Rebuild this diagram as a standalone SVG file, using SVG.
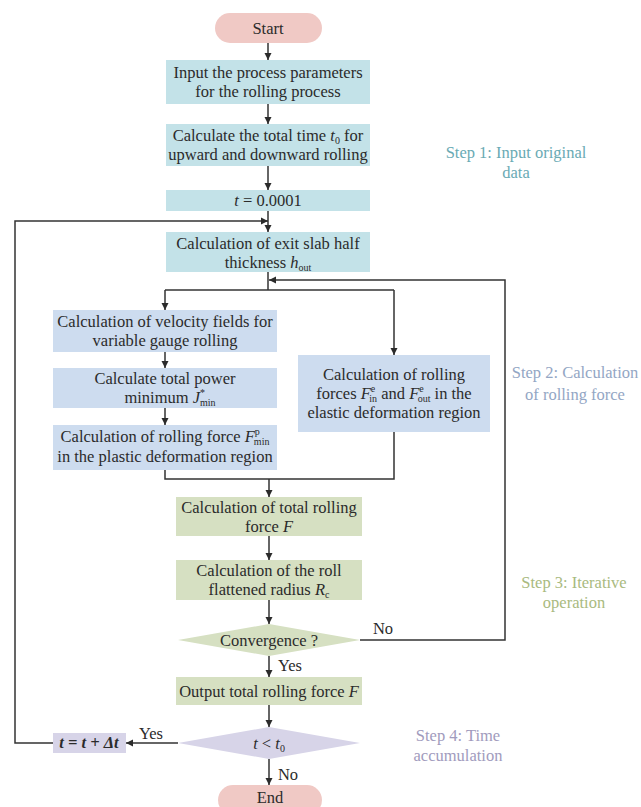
<svg xmlns="http://www.w3.org/2000/svg" width="641" height="807" viewBox="0 0 641 807">
  <defs>
    <marker id="arr" markerWidth="8" markerHeight="8" refX="7" refY="4" orient="auto" markerUnits="userSpaceOnUse">
      <path d="M0,0.5 L7,4 L0,7.5 Z" fill="#2b2b2b"/>
    </marker>
    <style>
      text { font-family: "Liberation Serif", "Times New Roman", serif; font-size: 16.5px; fill: #2b2b2b; text-anchor: middle; }
      .i { font-style: italic; }
      .s { font-size: 10px; }
      .term { fill: #f0c9c5; }
      .cyan { fill: #c3e2e8; }
      .blue { fill: #cddcef; }
      .green { fill: #d6e0c2; }
      .purple { fill: #d7d4e8; }
      .ln { fill: none; stroke: #333; stroke-width: 1.5; }
      .step1 { fill: #6aaab4; }
      .step2 { fill: #93a6c4; }
      .step3 { fill: #a9ba80; }
      .step4 { fill: #a19bbd; }
    </style>
  </defs>
  <rect width="641" height="807" fill="#ffffff"/>

  <!-- connectors -->
  <g id="connectors" class="ln">
    <line x1="268" y1="43" x2="268" y2="60" marker-end="url(#arr)"/>
    <line x1="268" y1="104" x2="268" y2="124" marker-end="url(#arr)"/>
    <line x1="268" y1="166" x2="268" y2="190" marker-end="url(#arr)"/>
    <line x1="268" y1="211" x2="268" y2="232" marker-end="url(#arr)"/>
    <polyline points="53,743 15,743 15,221 268,221" marker-end="url(#arr)"/>
    <line x1="268" y1="272" x2="268" y2="290"/>
    <polyline points="360,640 505,640 505,280 269,280" marker-end="url(#arr)"/>
    <line x1="165" y1="290" x2="394" y2="290"/>
    <line x1="165" y1="290" x2="165" y2="310" marker-end="url(#arr)"/>
    <line x1="394" y1="290" x2="394" y2="355" marker-end="url(#arr)"/>
    <line x1="165" y1="352" x2="165" y2="368" marker-end="url(#arr)"/>
    <line x1="165" y1="408" x2="165" y2="425" marker-end="url(#arr)"/>
    <polyline points="165,470 165,479 394,479 394,432"/>
    <line x1="269" y1="479" x2="269" y2="497" marker-end="url(#arr)"/>
    <line x1="269" y1="536" x2="269" y2="560" marker-end="url(#arr)"/>
    <line x1="269" y1="600" x2="269" y2="624" marker-end="url(#arr)"/>
    <line x1="269" y1="656" x2="269" y2="677" marker-end="url(#arr)"/>
    <line x1="269" y1="705" x2="269" y2="727" marker-end="url(#arr)"/>
    <line x1="178" y1="743" x2="126" y2="743" marker-end="url(#arr)"/>
    <line x1="269" y1="759" x2="269" y2="785" marker-end="url(#arr)"/>
  </g>

  <!-- edge labels -->
  <g id="edge-labels">
    <text x="383" y="634">No</text>
    <text x="290" y="671">Yes</text>
    <text x="151" y="739">Yes</text>
    <text x="288" y="780">No</text>
  </g>

  <g id="start">
    <rect class="term" x="215" y="13" width="107" height="30" rx="15"/>
    <text x="268" y="34">Start</text>
  </g>

  <g id="input-params">
    <rect class="cyan" x="166" y="60" width="204" height="44"/>
    <text x="268" y="78">Input the process parameters</text>
    <text x="268" y="97">for the rolling process</text>
  </g>

  <g id="total-time">
    <rect class="cyan" x="166" y="124" width="204" height="42"/>
    <text x="268" y="141">Calculate the total time <tspan class="i">t</tspan><tspan class="s" dy="3">0</tspan><tspan dy="-3"> for</tspan></text>
    <text x="268" y="160">upward and downward rolling</text>
  </g>

  <g id="t-init">
    <rect class="cyan" x="166" y="190" width="204" height="21"/>
    <text x="268" y="206"><tspan class="i">t</tspan> = 0.0001</text>
  </g>

  <g id="exit-thickness">
    <rect class="cyan" x="166" y="232" width="204" height="40"/>
    <text x="268" y="249">Calculation of exit slab half</text>
    <text x="268" y="268">thickness <tspan class="i">h</tspan><tspan class="s" dy="3">out</tspan></text>
  </g>

  <g id="velocity-fields">
    <rect class="blue" x="53" y="310" width="224" height="42"/>
    <text x="165" y="327">Calculation of velocity fields for</text>
    <text x="165" y="346">variable gauge rolling</text>
  </g>

  <g id="power-min">
    <rect class="blue" x="53" y="368" width="224" height="40"/>
    <text x="165" y="384">Calculate total power</text>
    <text x="170" y="403">minimum <tspan class="i">J</tspan><tspan class="s" dy="-7">*</tspan><tspan class="s" dx="-5" dy="10">min</tspan></text>
  </g>

  <g id="plastic-force">
    <rect class="blue" x="53" y="425" width="224" height="45"/>
    <text x="165" y="442">Calculation of rolling force <tspan class="i">F</tspan><tspan class="s" dy="-7">p</tspan><tspan class="s" dx="-6" dy="10">min</tspan></text>
    <text x="165" y="462">in the plastic deformation region</text>
  </g>

  <g id="elastic-force">
    <rect class="blue" x="298" y="355" width="192" height="77"/>
    <text x="394" y="380">Calculation of rolling</text>
    <text x="394" y="399">forces <tspan class="i">F</tspan><tspan class="s" dy="-7">e</tspan><tspan class="s" dx="-6" dy="10">in</tspan><tspan dy="-3"> and </tspan><tspan class="i">F</tspan><tspan class="s" dy="-7">e</tspan><tspan class="s" dx="-6" dy="10">out</tspan><tspan dy="-3"> in the</tspan></text>
    <text x="394" y="418">elastic deformation region</text>
  </g>

  <g id="total-force">
    <rect class="green" x="176" y="497" width="186" height="39"/>
    <text x="269" y="513">Calculation of total rolling</text>
    <text x="269" y="532">force <tspan class="i">F</tspan></text>
  </g>

  <g id="flattened-radius">
    <rect class="green" x="176" y="560" width="186" height="40"/>
    <text x="269" y="576">Calculation of the roll</text>
    <text x="269" y="595">flattened radius <tspan class="i">R</tspan><tspan class="s" dy="3">c</tspan></text>
  </g>

  <g id="convergence">
    <polygon class="green" points="178,640 269,624 360,640 269,656"/>
    <text x="269" y="646">Convergence ?</text>
  </g>

  <g id="output-force">
    <rect class="green" x="176" y="677" width="186" height="28"/>
    <text x="269" y="697">Output total rolling force <tspan class="i">F</tspan></text>
  </g>

  <g id="time-check">
    <polygon class="purple" points="178,743 269,727 360,743 269,759"/>
    <text x="269" y="749"><tspan class="i">t</tspan> &lt; <tspan class="i">t</tspan><tspan class="s" dy="3">0</tspan></text>
  </g>

  <g id="time-step">
    <rect class="purple" x="53" y="733" width="73" height="20"/>
    <text x="89" y="748" class="i" font-weight="bold" font-size="15">t = t + Δt</text>
  </g>

  <g id="end">
    <rect class="term" x="218" y="785" width="104" height="30" rx="15"/>
    <text x="270" y="803">End</text>
  </g>

  <!-- stage annotations -->
  <g id="step-labels">
    <text class="step1" x="516" y="158">Step 1: Input original</text>
    <text class="step1" x="516" y="178">data</text>
    <text class="step2" x="575" y="378">Step 2: Calculation</text>
    <text class="step2" x="575" y="400">of rolling force</text>
    <text class="step3" x="574" y="588">Step 3: Iterative</text>
    <text class="step3" x="574" y="608">operation</text>
    <text class="step4" x="458" y="741">Step 4: Time</text>
    <text class="step4" x="458" y="761">accumulation</text>
  </g>
</svg>
